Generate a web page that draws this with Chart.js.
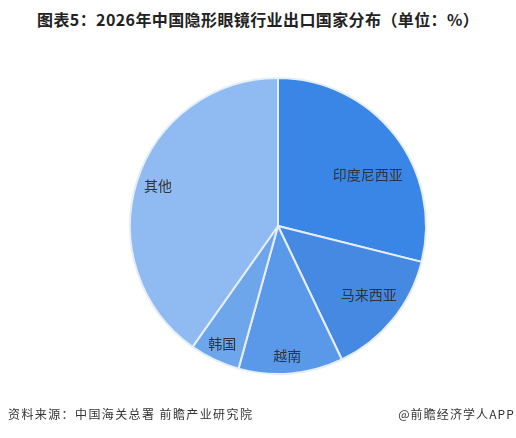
<!DOCTYPE html>
<html>
<head>
<meta charset="utf-8">
<script src="https://cdn.jsdelivr.net/npm/chart.js@4/dist/chart.umd.min.js"></script>
<style>
  body { margin: 0; background: #fff; }
  #wrap { position: relative; width: 516px; height: 438px; overflow: hidden; font-family: "Noto Sans CJK SC", sans-serif; }
  #title { position: absolute; left: 37px; top: 7px; font-size: 16px; font-weight: bold; color: #222; white-space: nowrap; letter-spacing: 0.4px; }
  #src { position: absolute; left: 8px; top: 405px; font-size: 12px; color: #333; white-space: nowrap; letter-spacing: 1.4px; }
  #app { position: absolute; right: 1px; top: 405px; font-size: 12px; color: #333; white-space: nowrap; letter-spacing: 1.1px; }
  canvas { position: absolute; left: 0; top: 0; }
</style>
</head>
<body>
<div id="wrap">
  <div id="title">图表5：2026年中国隐形眼镜行业出口国家分布（单位：%）</div>
  <canvas id="chart" width="516" height="438"></canvas>
  <div id="src">资料来源：中国海关总署 前瞻产业研究院</div>
  <div id="app">@前瞻经济学人APP</div>
</div>
<script>
const labels = ['印度尼西亚', '马来西亚', '越南', '韩国', '其他'];
const values = [28.9, 14.0, 11.4, 5.5, 40.2];

const colors = ['#3a86e6', '#4689e2', '#5a99ea', '#6ea6ec', '#8fbaf2'];

// label placement inside each slice: radius factor and angle nudge (degrees)
const labelRadius = [0.7, 0.77, 0.88, 0.88, 0.855];
const labelNudge = [8, -2, 1, 0, 1];

Chart.register({
  id: 'sliceLabels',
  afterDatasetsDraw(chart) {
    const ctx = chart.ctx;
    const meta = chart.getDatasetMeta(0);
    ctx.save();
    ctx.font = '14px "Noto Sans CJK SC", sans-serif';
    ctx.fillStyle = '#333';
    ctx.textAlign = 'center';
    ctx.textBaseline = 'middle';
    meta.data.forEach((arc, i) => {
      const p = arc.getProps(['x', 'y', 'startAngle', 'endAngle', 'outerRadius'], true);
      const mid = (p.startAngle + p.endAngle) / 2 + labelNudge[i] * Math.PI / 180;
      const r = p.outerRadius * labelRadius[i];
      ctx.fillText(chart.data.labels[i], p.x + Math.cos(mid) * r, p.y + Math.sin(mid) * r);
    });
    ctx.restore();
  }
});

new Chart(document.getElementById('chart'), {
  type: 'pie',
  data: {
    labels,
    datasets: [{
      data: values,
      backgroundColor: colors,
      borderColor: '#e6eef9',
      borderWidth: 2
    }]
  },
  options: {
    responsive: false,
    animation: false,
    layout: { padding: { left: 129, right: 89, top: 77, bottom: 63 } },
    plugins: {
      legend: { display: false },
      tooltip: { enabled: false }
    }
  }
});
</script>
</body>
</html>
